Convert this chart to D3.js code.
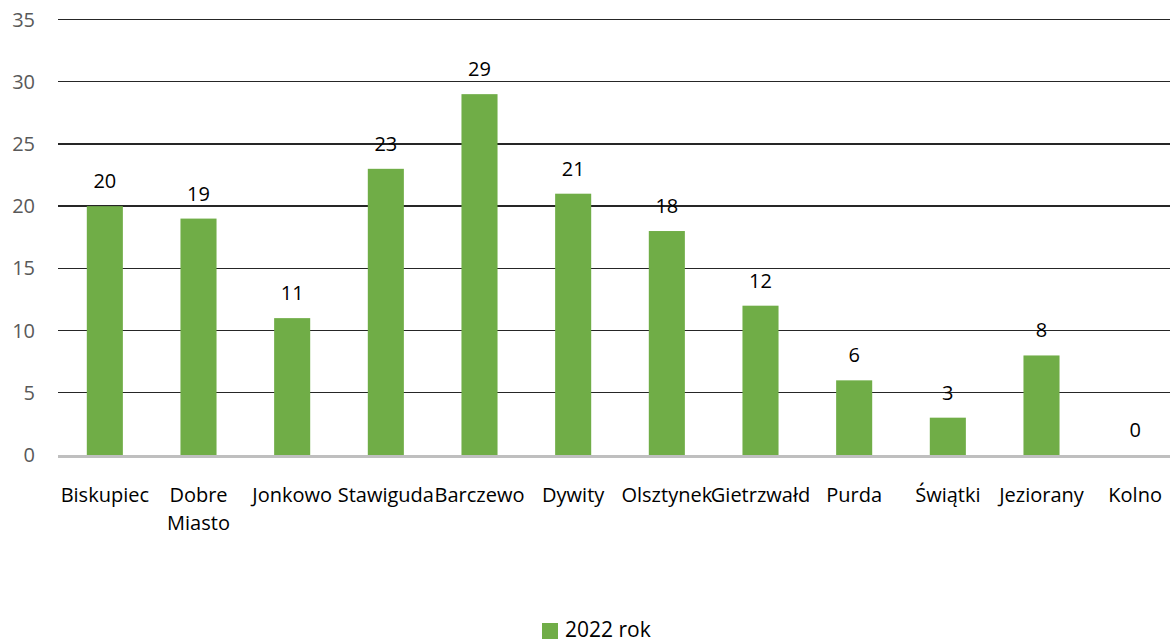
<!DOCTYPE html>
<meta charset="utf-8">
<head>
  <meta charset="utf-8">
  <title>2022 rok</title>
  <style>
    body { margin: 0; background: #fff; }
    svg { display: block; font-family: "Open Sans", sans-serif; }
    .grid line { stroke: #262626; stroke-width: 1.3; shape-rendering: crispEdges; }
    .ytick { fill: #595959; font-size: 20px; }
    .xlab { fill: #000; font-size: 20px; }
    .val { fill: #000; font-size: 20px; }
  </style>
</head>
<body>
<div id="chart"></div>
<script src="https://d3js.org/d3.v7.min.js"></script>
<script>
// data
var categories = ["Biskupiec", "Dobre Miasto", "Jonkowo", "Stawiguda", "Barczewo", "Dywity",
                  "Olsztynek", "Gietrzwałd", "Purda", "Świątki", "Jeziorany", "Kolno"];
var values2022 = [20, 19, 11, 23, 29, 21, 18, 12, 6, 3, 8, 0];
var yTicks = [0, 5, 10, 15, 20, 25, 30, 35];
var seriesName = "2022 rok";

var W = 1170, H = 641;

var svg = d3.select("#chart")
  .append("svg")
    .attr("width", W)
    .attr("height", H);

// scales
var x = d3.scaleBand()
  .domain(categories)
  .range([58, 1182])
  .paddingInner(0.615)
  .paddingOuter(0.3075);

var y = d3.scaleLinear()
  .domain([0, 35])
  .range([455, 19.5]);

// gridlines
svg.append("g")
  .attr("class", "grid")
  .selectAll("line")
  .data(yTicks.filter(function(d) { return d > 0; }))
  .enter()
  .append("line")
    .attr("x1", 58)
    .attr("x2", W)
    .attr("y1", function(d) { return y(d); })
    .attr("y2", function(d) { return y(d); });

// y tick labels
svg.append("g")
  .selectAll("text")
  .data(yTicks)
  .enter()
  .append("text")
    .attr("class", "ytick")
    .attr("text-anchor", "end")
    .attr("x", 35)
    .attr("y", function(d) { return y(d) + 7; })
    .text(function(d) { return d; });

// bars
svg.append("g")
  .selectAll("rect")
  .data(values2022)
  .enter()
  .append("rect")
    .attr("x", function(d, i) { return x(categories[i]); })
    .attr("y", function(d) { return y(d); })
    .attr("width", x.bandwidth())
    .attr("height", function(d) { return y(0) - y(d); })
    .style("fill", "#70AD47");

// baseline axis
svg.append("line")
  .attr("x1", 58)
  .attr("x2", W)
  .attr("y1", y(0) + 1.5)
  .attr("y2", y(0) + 1.5)
  .style("stroke", "#BFBFBF")
  .style("stroke-width", 3);

// value labels
svg.append("g")
  .selectAll("text")
  .data(values2022)
  .enter()
  .append("text")
    .attr("class", "val")
    .attr("text-anchor", "middle")
    .attr("x", function(d, i) { return x(categories[i]) + x.bandwidth() / 2; })
    .attr("y", function(d) { return y(d) - 18; })
    .text(function(d) { return d; });

// category labels (wrap two-word names)
var xl = svg.append("g")
  .selectAll("text")
  .data(categories)
  .enter()
  .append("text")
    .attr("class", "xlab")
    .attr("text-anchor", "middle")
    .attr("x", function(d) { return x(d) + x.bandwidth() / 2; })
    .attr("y", 502);

xl.each(function(d) {
  var words = d.split(" ");
  var t = d3.select(this);
  words.forEach(function(w, i) {
    t.append("tspan")
      .attr("x", x(d) + x.bandwidth() / 2)
      .attr("dy", i === 0 ? 0 : 28)
      .text(w);
  });
});

// legend
var lg = svg.append("g").attr("transform", "translate(542,621)");
lg.append("rect")
  .attr("y", 2)
  .attr("width", 16)
  .attr("height", 16)
  .style("fill", "#70AD47");
lg.append("text")
  .attr("x", 23)
  .attr("y", 16)
  .style("font-size", "21px")
  .style("fill", "#000")
  .text(seriesName);
</script>
</body>
